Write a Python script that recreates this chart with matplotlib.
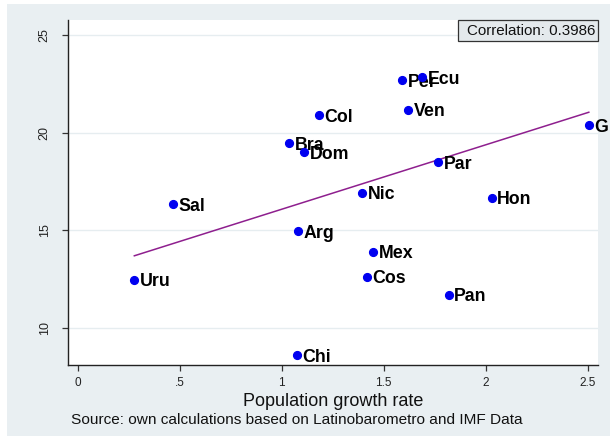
import numpy as np
import matplotlib
matplotlib.use("Agg")
import matplotlib.pyplot as plt
from matplotlib.patches import Rectangle

plt.rcParams['font.family'] = ['Liberation Sans', 'DejaVu Sans']

# Country codes, population growth rate (x) and outcome (y)
countries = ["Uru", "Sal", "Bra", "Dom", "Col", "Arg", "Chi", "Nic", "Mex",
             "Cos", "Per", "Ecu", "Ven", "Par", "Hon", "Pan", "G"]
growth = [0.278, 0.469, 1.036, 1.110, 1.183, 1.080, 1.073, 1.394, 1.447,
          1.417, 1.592, 1.687, 1.619, 1.767, 2.029, 1.818, 2.505]
values = [12.45, 16.33, 19.44, 19.00, 20.89, 14.93, 8.58, 16.91, 13.89,
          12.61, 22.69, 22.83, 21.18, 18.47, 16.65, 11.68, 20.39]

# Fitted line end points (from the published linear fit)
fit_x = [0.278, 2.505]
fit_y = [13.68, 21.04]

xticks = [0, 0.5, 1, 1.5, 2, 2.5]
xticklabels = ["0", ".5", "1", "1.5", "2", "2.5"]
yticks = [10, 15, 20, 25]
corr_text = "Correlation: 0.3986"

BG = "#e9eff2"
W, H = 610, 438
fig = plt.figure(figsize=(W / 100, H / 100), dpi=100, facecolor="white")
fig.patches.append(Rectangle((7 / W, 2 / H), (W - 7) / W, (H - 6) / H,
                             transform=fig.transFigure, facecolor=BG,
                             edgecolor="none", zorder=-10))

ax = fig.add_axes([68 / W, (H - 365) / H, 530 / W, 345 / H])
ax.set_facecolor("white")
ax.set_xlim(-0.047, 2.55)
ax.set_ylim(8.08, 25.77)

for s in ("top", "right"):
    ax.spines[s].set_visible(False)
for s in ("left", "bottom"):
    ax.spines[s].set_color("#222222")
    ax.spines[s].set_linewidth(1.0)

ax.set_xticks(xticks)
ax.set_xticklabels(xticklabels)
ax.set_yticks(yticks)
ax.set_yticklabels([str(v) for v in yticks], rotation=90, va="center")
ax.tick_params(axis="both", direction="out", length=4.5, width=0.9,
               color="#333333", labelcolor="#222222")
ax.tick_params(axis="y", pad=8, labelsize=9)
ax.tick_params(axis="x", pad=4, labelsize=8.5)
ax.yaxis.grid(True, color="#e6edf0", linewidth=1.0)
ax.set_axisbelow(True)

# Linear fit across the observed range
ax.plot(fit_x, fit_y, color="#8e1f8e", linewidth=1.1, zorder=2)

# Markers with country labels
for i, (name, x, y) in enumerate(zip(countries, growth, values)):
    ax.plot(x, y, "o", color="#0000f0", markersize=5.6, zorder=3 + 2 * i,
            clip_on=False)
    ax.annotate(name, (x, y), xytext=(4.0, -1.5), textcoords="offset points",
                ha="left", va="center", fontsize=12.8, fontweight="bold",
                color="black", zorder=4 + 2 * i, annotation_clip=False)

# Correlation box in the upper right corner
fig.patches.append(Rectangle((458 / W, 1 - 41 / H), 139.5 / W, 20.5 / H,
                             transform=fig.transFigure, facecolor="#e4e9ec",
                             edgecolor="#333333", linewidth=0.9, zorder=40))
fig.text(595.5 / W, 1 - 31 / H, corr_text, ha="right", va="center",
         fontsize=10.9, color="#111111", zorder=41)

ax.set_xlabel("Population growth rate", fontsize=13, color="#111111", labelpad=3)
fig.text(71 / W, 1 - 420 / H,
         "Source: own calculations based on Latinobarometro and IMF Data",
         ha="left", va="center", fontsize=11.1, color="#111111")

fig.savefig("out.png", dpi=100, facecolor="white")
